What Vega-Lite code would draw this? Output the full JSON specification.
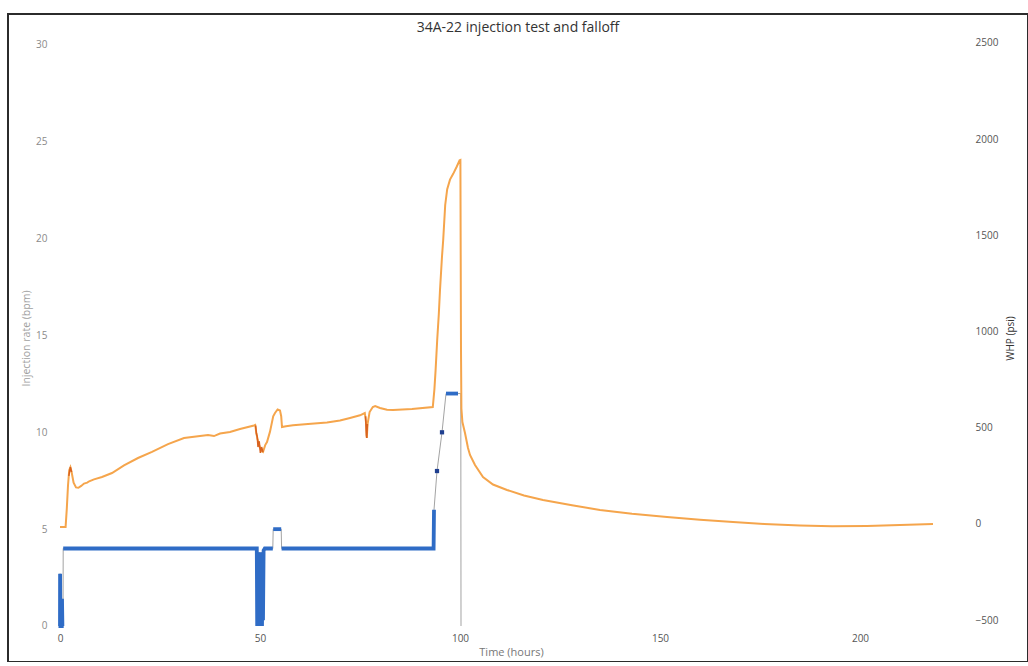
{
  "$schema": "https://vega.github.io/schema/vega-lite/v6.json",
  "autosize": {"type": "none"},
  "padding": {"left": 8, "top": 14, "right": 0, "bottom": 0},
  "width": 1020,
  "height": 648,
  "background": "white",
  "title": {
    "text": "34A-22 injection test and falloff",
    "font": "Open Sans",
    "fontSize": 14,
    "fontWeight": "normal",
    "color": "#333333",
    "anchor": "middle",
    "baseline": "top",
    "offset": -21
  },
  "config": {
    "view": {"stroke": "#2b2b2b", "strokeWidth": 2},
    "axis": {
      "grid": false,
      "domain": false,
      "ticks": false,
      "labelFont": "Open Sans",
      "titleFont": "Open Sans",
      "labelFontSize": 10,
      "titleFontWeight": "normal"
    }
  },
  "datasets": {
    "rate": [
      {"t": 0.0, "rate": 0, "stage": "a"},
      {"t": 0.02, "rate": 2.7, "stage": "a"},
      {"t": 0.1, "rate": 0, "stage": "a"},
      {"t": 0.45, "rate": 0, "stage": "a"},
      {"t": 0.5, "rate": 1.4, "stage": "a"},
      {"t": 0.6, "rate": 0, "stage": "a"},
      {"t": 0.75, "rate": 0, "stage": null},
      {"t": 0.8, "rate": 4, "stage": "b"},
      {"t": 49.2, "rate": 4, "stage": "b"},
      {"t": 49.3, "rate": 0, "stage": "b"},
      {"t": 49.5, "rate": 3.8, "stage": "b"},
      {"t": 49.7, "rate": 0, "stage": "b"},
      {"t": 49.9, "rate": 3.8, "stage": "b"},
      {"t": 50.1, "rate": 0, "stage": "b"},
      {"t": 50.3, "rate": 3.8, "stage": "b"},
      {"t": 50.5, "rate": 0, "stage": "b"},
      {"t": 50.6, "rate": 2.2, "stage": "b"},
      {"t": 50.75, "rate": 0.3, "stage": "b"},
      {"t": 50.9, "rate": 3.9, "stage": "b"},
      {"t": 51.2, "rate": 4, "stage": "b"},
      {"t": 53.2, "rate": 4, "stage": "b"},
      {"t": 53.3, "rate": 5, "stage": "c"},
      {"t": 55.3, "rate": 5, "stage": "c"},
      {"t": 55.4, "rate": 4, "stage": "d"},
      {"t": 93.4, "rate": 4, "stage": "d"},
      {"t": 93.5, "rate": 6, "stage": "d"},
      {"t": 94.25, "rate": 8, "stage": "e"},
      {"t": 95.5, "rate": 10, "stage": "e"},
      {"t": 96.5, "rate": 12, "stage": "f"},
      {"t": 99.5, "rate": 12, "stage": "f"},
      {"t": 100.2, "rate": 12, "stage": null},
      {"t": 100.25, "rate": 0, "stage": null}
    ],
    "whp": [
      {"t": 0, "whp": -15}, {"t": 1.4, "whp": -15}, {"t": 1.7, "whp": 80},
      {"t": 2.0, "whp": 200}, {"t": 2.3, "whp": 280}, {"t": 2.6, "whp": 295},
      {"t": 2.9, "whp": 270}, {"t": 3.4, "whp": 215}, {"t": 4.0, "whp": 190},
      {"t": 4.6, "whp": 188}, {"t": 5.3, "whp": 198}, {"t": 6.0, "whp": 210},
      {"t": 6.8, "whp": 215}, {"t": 7.3, "whp": 222}, {"t": 8.5, "whp": 232},
      {"t": 10.5, "whp": 244}, {"t": 13, "whp": 265}, {"t": 16, "whp": 305},
      {"t": 19.5, "whp": 343}, {"t": 23, "whp": 375}, {"t": 27, "whp": 415},
      {"t": 31, "whp": 447}, {"t": 34, "whp": 455}, {"t": 37, "whp": 462},
      {"t": 38.5, "whp": 457}, {"t": 40, "whp": 470}, {"t": 42.5, "whp": 478},
      {"t": 45, "whp": 494}, {"t": 48.5, "whp": 512}, {"t": 48.8, "whp": 515},
      {"t": 49.1, "whp": 470}, {"t": 49.4, "whp": 440}, {"t": 49.8, "whp": 410},
      {"t": 50.3, "whp": 380}, {"t": 50.75, "whp": 374}, {"t": 51.3, "whp": 410},
      {"t": 51.75, "whp": 426}, {"t": 52.5, "whp": 480}, {"t": 53.3, "whp": 560},
      {"t": 53.75, "whp": 577}, {"t": 54.4, "whp": 595}, {"t": 55.0, "whp": 590},
      {"t": 55.3, "whp": 560}, {"t": 55.5, "whp": 504}, {"t": 56.5, "whp": 508},
      {"t": 58.25, "whp": 513}, {"t": 62, "whp": 520}, {"t": 66.75, "whp": 528},
      {"t": 70, "whp": 538}, {"t": 72.5, "whp": 551}, {"t": 75, "whp": 565},
      {"t": 76.2, "whp": 577}, {"t": 76.5, "whp": 530}, {"t": 76.7, "whp": 447},
      {"t": 76.9, "whp": 520}, {"t": 77.4, "whp": 582}, {"t": 78.2, "whp": 608},
      {"t": 78.8, "whp": 613}, {"t": 80, "whp": 603}, {"t": 81.75, "whp": 594},
      {"t": 83.25, "whp": 593}, {"t": 88, "whp": 598}, {"t": 93.2, "whp": 608},
      {"t": 93.6, "whp": 700}, {"t": 93.9, "whp": 800}, {"t": 94.3, "whp": 956},
      {"t": 94.7, "whp": 1090}, {"t": 95.0, "whp": 1216}, {"t": 95.5, "whp": 1390},
      {"t": 95.8, "whp": 1476}, {"t": 96.3, "whp": 1658}, {"t": 96.8, "whp": 1740},
      {"t": 97.5, "whp": 1790}, {"t": 98.3, "whp": 1820}, {"t": 99.2, "whp": 1858},
      {"t": 99.9, "whp": 1890}, {"t": 100.1, "whp": 1892}, {"t": 100.25, "whp": 900},
      {"t": 100.35, "whp": 600}, {"t": 100.6, "whp": 530}, {"t": 101.25, "whp": 473},
      {"t": 102.0, "whp": 395}, {"t": 102.5, "whp": 359}, {"t": 103.75, "whp": 307},
      {"t": 105.75, "whp": 244}, {"t": 108.25, "whp": 205}, {"t": 111.75, "whp": 177},
      {"t": 116, "whp": 148}, {"t": 120.75, "whp": 125}, {"t": 128, "whp": 97},
      {"t": 135, "whp": 73}, {"t": 143, "whp": 53}, {"t": 151.75, "whp": 36},
      {"t": 160, "whp": 22}, {"t": 168.25, "whp": 10}, {"t": 176, "whp": 0},
      {"t": 185, "whp": -8}, {"t": 193, "whp": -12}, {"t": 201.75, "whp": -10},
      {"t": 210, "whp": -5}, {"t": 218.25, "whp": 0}
    ],
    "whp_fast": [
      {"t": 2.2, "whp": 250, "run": 1}, {"t": 2.6, "whp": 295, "run": 1}, {"t": 2.9, "whp": 270, "run": 1},
      {"t": 48.9, "whp": 512, "run": 2}, {"t": 49.1, "whp": 470, "run": 2}, {"t": 49.3, "whp": 455, "run": 2},
      {"t": 49.5, "whp": 400, "run": 2}, {"t": 49.8, "whp": 430, "run": 2}, {"t": 50.1, "whp": 370, "run": 2},
      {"t": 50.4, "whp": 400, "run": 2}, {"t": 50.75, "whp": 374, "run": 2},
      {"t": 76.4, "whp": 560, "run": 3}, {"t": 76.6, "whp": 460, "run": 3}, {"t": 76.7, "whp": 447, "run": 3},
      {"t": 76.85, "whp": 520, "run": 3}
    ]
  },
  "encoding": {
    "x": {
      "field": "t",
      "type": "quantitative",
      "scale": {"domain": [-13, 242], "nice": false, "zero": false},
      "axis": {
        "orient": "bottom",
        "offset": -30,
        "values": [0, 50, 100, 150, 200],
        "labelPadding": 1,
        "labelColor": "#555555",
        "title": "Time (hours)",
        "titleFontSize": 11,
        "titleColor": "#777777",
        "titlePadding": 3,
        "titleX": 503
      }
    }
  },
  "layer": [
    {
      "data": {"name": "rate"},
      "layer": [
        {
          "mark": {"type": "line", "color": "#a3a3a3", "strokeWidth": 1},
          "encoding": {
            "y": {
              "field": "rate",
              "type": "quantitative",
              "scale": {"domain": [-1.859, 31.596], "nice": false, "zero": false},
              "axis": {
                "orient": "left",
                "offset": -40,
                "values": [0, 5, 10, 15, 20, 25, 30],
                "labelPadding": 1,
                "labelColor": "#8a8a8a",
                "title": "Injection rate (bpm)",
                "titleFontSize": 10.5,
                "titleColor": "#a0a0a0",
                "titlePadding": 4
              }
            }
          }
        },
        {
          "transform": [{"filter": "datum.stage != null && datum.stage != 'e'"}],
          "mark": {"type": "line", "color": "#2f6cc6", "strokeWidth": 3.8},
          "encoding": {
            "y": {"field": "rate", "type": "quantitative"},
            "detail": {"field": "stage"}
          }
        },
        {
          "transform": [{"filter": "datum.stage == 'e'"}],
          "mark": {"type": "square", "color": "#1f3f8f", "opacity": 1, "size": 18},
          "encoding": {
            "y": {"field": "rate", "type": "quantitative"}
          }
        }
      ]
    },
    {
      "layer": [
        {
          "data": {"name": "whp"},
          "mark": {"type": "line", "color": "#f5a54c", "strokeWidth": 2},
          "encoding": {
            "y": {
              "field": "whp",
              "type": "quantitative",
              "scale": {"domain": [-717.3, 2650.7], "nice": false, "zero": false},
              "axis": {
                "orient": "right",
                "offset": -53,
                "values": [-500, 0, 500, 1000, 1500, 2000, 2500],
                "format": "d",
                "labelPadding": 0,
                "labelColor": "#555555",
                "title": "WHP (psi)",
                "titleAngle": 270,
                "titleFontSize": 10,
                "titleColor": "#333333",
                "titlePadding": 18
              }
            }
          }
        },
        {
          "data": {"name": "whp_fast"},
          "mark": {"type": "line", "color": "#d8621f", "strokeWidth": 1.5},
          "encoding": {
            "y": {"field": "whp", "type": "quantitative"},
            "detail": {"field": "run"}
          }
        }
      ]
    }
  ],
  "resolve": {"scale": {"y": "independent"}}
}
